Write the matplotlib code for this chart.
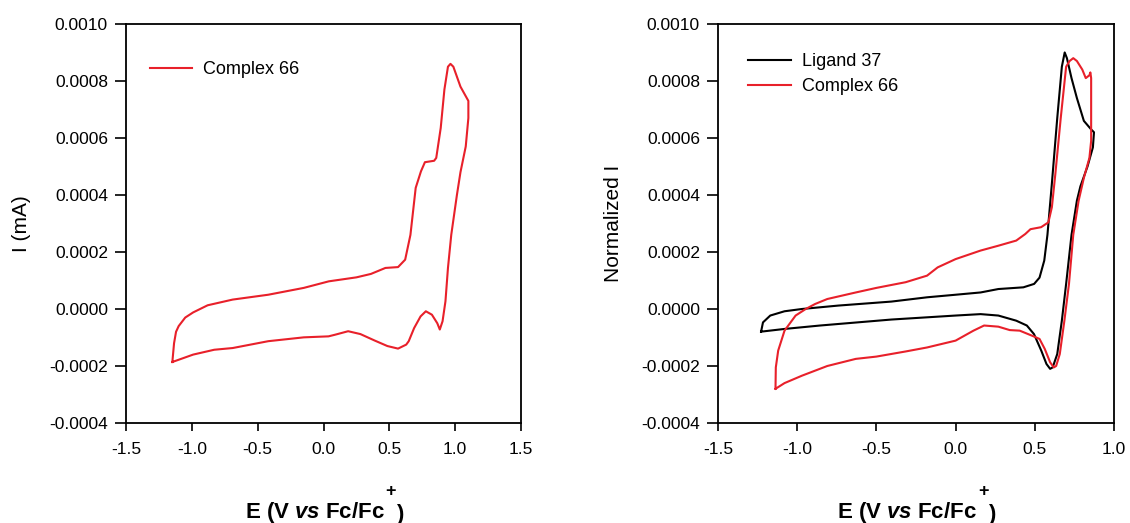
import matplotlib
matplotlib.use("Agg")
import matplotlib.pyplot as plt

plt.rcParams["font.family"] = ["Liberation Sans", "DejaVu Sans"]
plt.rcParams["mathtext.fontset"] = "custom"
plt.rcParams["mathtext.rm"] = "Liberation Sans"
plt.rcParams["mathtext.bf"] = "Liberation Sans:bold"
plt.rcParams["mathtext.bfit"] = "Liberation Sans:italic:bold"

# --- Complex 66, left panel (E in V, I in mA) ---
c66_left_e = [-1.148, -1.135, -1.12, -1.10, -1.05, -0.99, -0.88, -0.69, -0.42, -0.15,
              0.04, 0.25, 0.36, 0.47, 0.566, 0.62, 0.66, 0.70, 0.74, 0.77, 0.84, 0.856,
              0.89, 0.918, 0.945, 0.964, 0.986, 1.04, 1.094, 1.10,
              1.10, 1.08, 1.04, 1.013, 0.97, 0.945, 0.926, 0.904, 0.883, 0.864, 0.823,
              0.777, 0.737, 0.688, 0.647, 0.628, 0.566, 0.485, 0.39, 0.28, 0.187, 0.09,
              0.038, -0.15, -0.42, -0.69, -0.83, -0.99, -1.148]
c66_left_i = [-0.000186, -0.00012, -0.00008, -0.00006, -0.00003, -0.000012, 0.000013, 0.000033,
              0.00005, 0.000074, 0.000097, 0.000111, 0.000123, 0.000144, 0.000147, 0.000173,
              0.00026, 0.000425, 0.000483, 0.000515, 0.00052, 0.00053, 0.000635, 0.00077,
              0.00085, 0.00086, 0.00085, 0.00078, 0.000735, 0.00073,
              0.00067, 0.00057, 0.00048, 0.0004, 0.00026, 0.000144, 0.000027, -0.000043,
              -0.000072, -0.00005, -0.00002, -0.000008, -0.000026, -0.000067, -0.000113,
              -0.000125, -0.000139, -0.00013, -0.000111, -0.000088, -0.000078, -0.00009,
              -0.000096, -0.0000995, -0.000113, -0.000137, -0.000143, -0.00016, -0.000186]

# --- Ligand 37, right panel (normalized) ---
l37_e = [-1.228, -1.216, -1.17, -1.08, -0.97, -0.74, -0.405, -0.18, 0.0, 0.158, 0.27, 0.428,
         0.496, 0.53, 0.56, 0.58, 0.608, 0.642, 0.671, 0.689, 0.703, 0.732, 0.766, 0.81,
         0.856, 0.874,
         0.867, 0.833, 0.788, 0.766, 0.732, 0.698, 0.671, 0.642, 0.613, 0.597, 0.574,
         0.541, 0.495, 0.45, 0.383, 0.27, 0.158, 0.0, -0.405, -0.856, -1.08, -1.228]
l37_i = [-0.0000795, -0.000047, -0.000023, -0.000008, 0.0, 0.000012, 0.000026, 0.000041,
         0.00005, 0.000058, 0.00007, 0.000076, 0.000088, 0.00011, 0.00017, 0.00026, 0.00044,
         0.00067, 0.00085, 0.0009, 0.00088, 0.00081, 0.00074, 0.00066, 0.00063, 0.00062,
         0.000567, 0.0005, 0.00043, 0.00038, 0.00026, 0.000088, -0.000041, -0.000158,
         -0.000205, -0.00021, -0.000193, -0.000146, -0.000088, -0.000058, -0.000041,
         -0.000023, -0.000018, -0.000023, -0.000037, -0.000058, -0.00007, -0.0000795]

# --- Complex 66, right panel (normalized) ---
c66_e = [-1.137, -1.135, -1.12, -1.08, -1.01, -0.946, -0.887, -0.81, -0.63, -0.5, -0.315,
         -0.18, -0.113, 0.0, 0.158, 0.27, 0.383, 0.44, 0.473, 0.54, 0.586, 0.608, 0.63,
         0.664, 0.698, 0.72, 0.743, 0.766, 0.80, 0.822, 0.845, 0.851,
         0.856, 0.856, 0.845, 0.81, 0.777, 0.743, 0.716, 0.687, 0.658, 0.635, 0.62, 0.597,
         0.563, 0.53, 0.484, 0.405, 0.342, 0.27, 0.18, 0.113, 0.0, -0.18, -0.315, -0.5,
         -0.63, -0.81, -0.97, -1.08, -1.137]
c66_i = [-0.00028, -0.000205, -0.000146, -0.000076, -0.000023, 0.0, 0.0000175, 0.000035,
         0.000058, 0.000074, 0.000094, 0.000117, 0.000146, 0.000175, 0.000205, 0.000222,
         0.00024, 0.000263, 0.00028, 0.000287, 0.000304, 0.000357, 0.000474, 0.00067,
         0.00085, 0.00087, 0.00088, 0.00087, 0.00084, 0.00081, 0.00082, 0.00083,
         0.00081, 0.00059, 0.00053, 0.00046, 0.00038, 0.00026, 0.000088, -0.000041,
         -0.000158, -0.0002, -0.000205, -0.000187, -0.00014, -0.000105, -0.000094,
         -0.000076, -0.000074, -0.000062, -0.000058, -0.000076, -0.000111, -0.000135,
         -0.000149, -0.000167, -0.000175, -0.0002, -0.000234, -0.00026, -0.00028]

y_ticks = [-0.0004, -0.0002, 0.0, 0.0002, 0.0004, 0.0006, 0.0008, 0.0010]
RED = "#e8202a"


def draw_xlabel(ax):
    # "E (V vs Fc/Fc" + raised "+" + ")" built from pieces, like the original
    t = ax.text(0.301, -0.238, r"E (V $\mathbfit{vs}$ Fc/Fc", transform=ax.transAxes,
                ha="left", va="baseline", fontsize=16, fontweight="bold")
    ax.annotate("+", xy=(1, 1), xycoords=t, xytext=(1, 0), textcoords="offset pixels",
                ha="left", va="bottom", fontsize=13, fontweight="bold")
    ax.annotate(")", xy=(1, 0), xycoords=t, xytext=(11, 0), textcoords="offset pixels",
                ha="left", va="bottom", fontsize=16, fontweight="bold")


def style_axes(ax, xticks, xlim, ylabel):
    ax.set_xlim(*xlim)
    ax.set_ylim(-0.0004, 0.0010)
    ax.set_xticks(xticks)
    ax.set_xticklabels([f"{t:.1f}" for t in xticks])
    ax.set_yticks(y_ticks)
    ax.set_yticklabels([f"{t:.4f}" for t in y_ticks])
    ax.tick_params(direction="out", width=1.2, labelsize=12.5, top=False, right=False)
    ax.tick_params(axis="x", length=6, pad=8)
    ax.tick_params(axis="y", length=8, pad=5)
    for sp in ax.spines.values():
        sp.set_linewidth(1.3)
    draw_xlabel(ax)
    ax.set_ylabel(ylabel, fontsize=15)
    ax.yaxis.set_label_coords(-0.24, 0.5)


fig = plt.figure(figsize=(11.3, 5.23), dpi=100)
ax1 = fig.add_axes([0.1115, 0.1912, 0.3496, 0.763])
ax2 = fig.add_axes([0.6354, 0.1912, 0.3504, 0.763])

ax1.plot(c66_left_e, c66_left_i, color=RED, lw=1.5, label="Complex 66")
style_axes(ax1, [-1.5, -1.0, -0.5, 0.0, 0.5, 1.0, 1.5], (-1.5, 1.5), "I (mA)")
ax1.legend(loc="upper left", frameon=False, fontsize=13, handlelength=2.3,
           handletextpad=0.65, borderpad=0, borderaxespad=0,
           bbox_to_anchor=(0.061, 0.907))

ax2.plot(l37_e, l37_i, color="black", lw=1.5, label="Ligand 37")
ax2.plot(c66_e, c66_i, color=RED, lw=1.5, label="Complex 66")
style_axes(ax2, [-1.5, -1.0, -0.5, 0.0, 0.5, 1.0], (-1.5, 1.0), "Normalized I")
ax2.legend(loc="upper left", frameon=False, fontsize=13, handlelength=2.4,
           handletextpad=0.6, borderpad=0, borderaxespad=0, labelspacing=0.45,
           bbox_to_anchor=(0.076, 0.927))

fig.savefig("out.png", dpi=100, facecolor="white")
